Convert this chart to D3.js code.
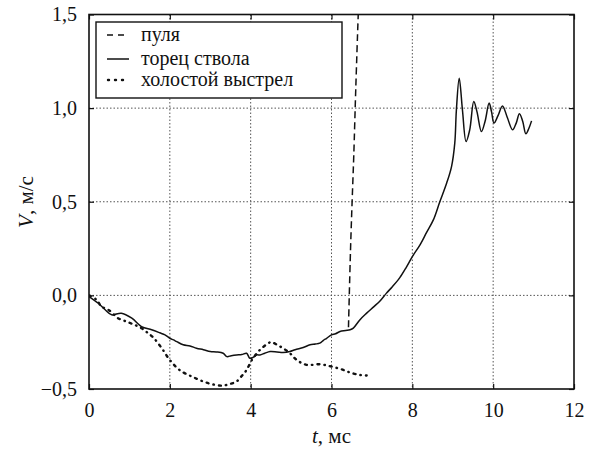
<!DOCTYPE html>
<html><head><meta charset="utf-8">
<script src="https://cdn.jsdelivr.net/npm/d3@7/dist/d3.min.js"></script>
<style>
body{margin:0;background:#fff;}
svg text{font-family:"Liberation Serif","DejaVu Serif","Times New Roman",Times,serif !important;fill:#111;}
</style></head>
<body><svg id="c" width="590" height="451"></svg>
<script>
// Data
const xTicks = [0,2,4,6,8,10,12];
const yTicks = [-0.5,0,0.5,1.0,1.5];
const seriesNames = ["пуля","торец ствола","холостой выстрел"];

const barrelT = [0,0.23,0.4,0.56,0.8,1.06,1.3,1.55,1.75,1.88,2.0,2.09,2.17,2.33,2.5,2.66,2.83,3.0,3.15,3.32,3.41,3.52,3.65,3.78,3.9,3.98,4.07,4.15,4.23,4.35,4.48,4.65,4.8,4.97,5.1,5.3,5.47,5.6,5.71,5.8,5.88,6.0,6.1,6.21,6.35,6.46,6.54,6.7,6.87,7.05,7.2,7.36,7.5,7.69,7.85,8.0,8.19,8.35,8.52,8.68,8.85,8.97,9.05,9.09,9.16,9.24,9.33,9.42,9.52,9.6,9.71,9.8,9.9,9.96,10.02,10.12,10.23,10.35,10.48,10.57,10.65,10.73,10.81,10.88,10.95];
const barrelV = [-0.006,-0.042,-0.077,-0.104,-0.095,-0.122,-0.167,-0.184,-0.2,-0.211,-0.229,-0.238,-0.247,-0.264,-0.27,-0.282,-0.29,-0.3,-0.302,-0.309,-0.327,-0.322,-0.318,-0.316,-0.309,-0.336,-0.33,-0.318,-0.318,-0.309,-0.3,-0.302,-0.305,-0.3,-0.29,-0.278,-0.264,-0.26,-0.255,-0.24,-0.229,-0.211,-0.205,-0.193,-0.188,-0.184,-0.175,-0.131,-0.095,-0.06,-0.03,0.012,0.045,0.095,0.15,0.207,0.27,0.335,0.403,0.5,0.6,0.688,0.813,0.99,1.16,0.99,0.822,0.884,1.035,0.98,0.875,0.93,1.027,0.98,0.92,0.96,1.012,0.95,0.884,0.92,0.97,0.93,0.863,0.89,0.932];

const bulletT = [6.42,6.47,6.51,6.55,6.6,6.66,6.68];
const bulletV = [-0.17,0.24,0.5,0.74,1.1,1.49,1.6];

const blankT = [0,0.19,0.31,0.48,0.72,0.93,1.1,1.3,1.45,1.59,1.8,2.0,2.25,2.58,2.95,3.28,3.49,3.65,3.78,3.9,4.03,4.23,4.44,4.5,4.73,4.97,5.14,5.38,5.71,6.0,6.29,6.46,6.7,6.87];
const blankV = [0,-0.024,-0.06,-0.077,-0.122,-0.14,-0.155,-0.175,-0.2,-0.225,-0.282,-0.345,-0.4,-0.437,-0.469,-0.482,-0.473,-0.46,-0.43,-0.398,-0.345,-0.291,-0.255,-0.25,-0.273,-0.309,-0.345,-0.371,-0.368,-0.38,-0.398,-0.412,-0.425,-0.428];

const svg = d3.select("#c");
const L=89,R=574,T=14.5,B=389;
const x = d3.scaleLinear().domain([0,12]).range([L,R]);
const y = d3.scaleLinear().domain([-0.5,1.5]).range([B,T]);

// grid
const g = svg.append("g");
g.selectAll(".vg").data(xTicks.filter(d=>d>0&&d<12)).enter().append("line")
 .attr("x1",d=>x(d)).attr("x2",d=>x(d)).attr("y1",T).attr("y2",B)
 .attr("stroke","#555").attr("stroke-width",1).attr("stroke-dasharray","1.5,2");
g.selectAll(".hg").data(yTicks.filter(d=>d>-0.5&&d<1.5)).enter().append("line")
 .attr("y1",d=>y(d)).attr("y2",d=>y(d)).attr("x1",L).attr("x2",R)
 .attr("stroke","#555").attr("stroke-width",1).attr("stroke-dasharray","1.5,2");

// axes
const fmt = d=> (d<0?"\u2212":"") + Math.abs(d).toFixed(1).replace(".",",");
const xb = d3.axisBottom(x).tickValues(xTicks).tickSize(-5).tickPadding(14).tickFormat(d3.format("d"));
const xt = d3.axisTop(x).tickValues(xTicks).tickSize(-5).tickFormat("");
const yl = d3.axisLeft(y).tickValues(yTicks).tickSize(-5).tickPadding(12).tickFormat(fmt);
const yr = d3.axisRight(y).tickValues(yTicks).tickSize(-5).tickFormat("");
function style(sel){sel.attr("font-family",null);sel.select(".domain").remove();sel.selectAll("line").attr("stroke","#111").attr("stroke-width",1.2);sel.selectAll("text").attr("font-size",20).attr("fill","#111");}
svg.append("g").attr("transform",`translate(0,${B})`).call(xb).call(style);
svg.append("g").attr("transform",`translate(0,${T})`).call(xt).call(style);
svg.append("g").attr("transform",`translate(${L},0)`).call(yl).call(style);
svg.append("g").attr("transform",`translate(${R},0)`).call(yr).call(style);
svg.append("rect").attr("x",L).attr("y",T).attr("width",R-L).attr("height",B-T)
 .attr("fill","none").attr("stroke","#111").attr("stroke-width",1.6);

// lines
const line = d3.line().x(d=>x(d[0])).y(d=>y(d[1])).curve(d3.curveCatmullRom);
svg.append("clipPath").attr("id","cp").append("rect").attr("x",L).attr("y",T).attr("width",R-L).attr("height",B-T);
const pl = svg.append("g").attr("clip-path","url(#cp)");
pl.append("path").datum(barrelT.map((t,i)=>[t,barrelV[i]])).attr("d",line)
 .attr("fill","none").attr("stroke","#111").attr("stroke-width",1.5);
pl.append("path").datum(bulletT.map((t,i)=>[t,bulletV[i]])).attr("d",line)
 .attr("fill","none").attr("stroke","#111").attr("stroke-width",1.5).attr("stroke-dasharray","7,4");
pl.append("path").datum(blankT.map((t,i)=>[t,blankV[i]])).attr("d",line)
 .attr("fill","none").attr("stroke","#111").attr("stroke-width",2.4).attr("stroke-linecap","round").attr("stroke-dasharray","2,5,0.5,5");

// axis titles
const xl = svg.append("text").attr("x",(L+R)/2).attr("y",443).attr("text-anchor","middle").attr("font-size",21);
xl.append("tspan").attr("font-style","italic").text("t");
xl.append("tspan").text(", мс");
const ylab = svg.append("text").attr("transform","translate(33,202) rotate(-90)").attr("text-anchor","middle").attr("font-size",21);
ylab.append("tspan").attr("font-style","italic").text("V");
ylab.append("tspan").text(", м/с");

// legend
const lg = svg.append("g");
lg.append("rect").attr("x",96).attr("y",22).attr("width",246).attr("height",76).attr("fill","#fff").attr("stroke","#111").attr("stroke-width",1.4);
const rows=[35,59,80];
const dashes=["6,5",null,"1,6"];
const widths=[1.5,1.5,2.4];
seriesNames.forEach((n,i)=>{
  const ln = lg.append("line").attr("x1",107).attr("x2",129).attr("y1",rows[i]).attr("y2",rows[i]).attr("stroke","#111").attr("stroke-width",widths[i]);
  if(dashes[i]) ln.attr("stroke-dasharray",dashes[i]);
  if(i===2) ln.attr("stroke-linecap","round").attr("x1",108).attr("x2",128);
  lg.append("text").attr("x",141).attr("y",rows[i]+6).attr("font-size",20).text(n);
});
</script></body></html>
